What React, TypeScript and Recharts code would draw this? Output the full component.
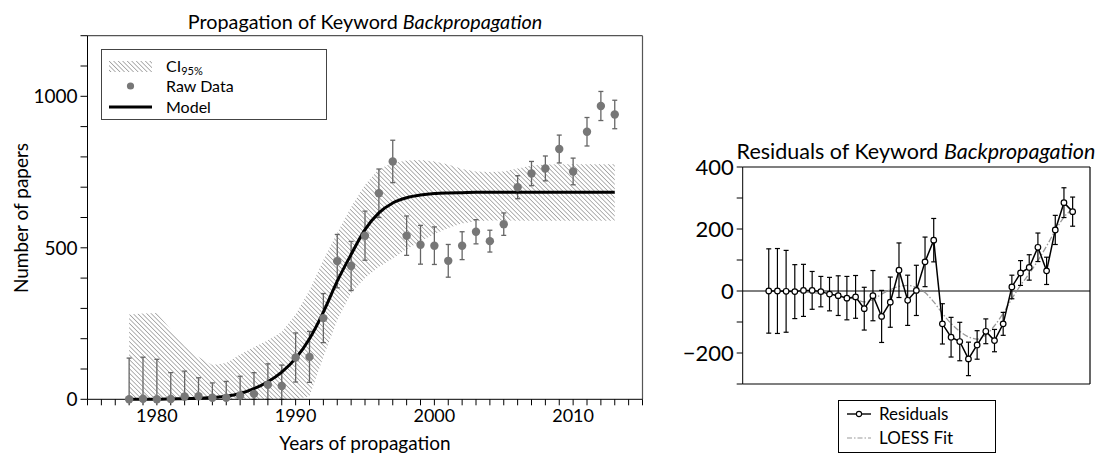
import {
  ComposedChart,
  Area,
  Line,
  Scatter,
  XAxis,
  YAxis,
  ErrorBar,
  ReferenceLine,
  Legend,
} from 'recharts'

const FONT = 'Lato, "DejaVu Sans", sans-serif'

// years of propagation
const years = [
  1978, 1979, 1980, 1981, 1982, 1983, 1984, 1985, 1986, 1987, 1988, 1989,
  1990, 1991, 1992, 1993, 1994, 1995, 1996, 1997, 1998, 1999, 2000, 2001,
  2002, 2003, 2004, 2005, 2006, 2007, 2008, 2009, 2010, 2011, 2012, 2013,
]

// number of papers (raw data, gray dots)
const rawPapers = [
  0, 2, 0, 1, 9, 10, 5, 5, 12, 18, 48, 44,
  138, 140, 268, 456, 440, 540, 680, 785, 540, 510, 507, 457,
  507, 553, 522, 578, 700, 745, 762, 826, 752, 883, 968, 940,
]

// error bar half-length, same for raw data and residuals
const errors = [
  136, 137, 132, 87, 84, 61, 49, 54, 64, 70, 69, 69,
  81, 84, 81, 88, 81, 81, 80, 70, 65, 64, 62, 54,
  46, 40, 36, 37, 38, 40, 41, 46, 44, 47, 48, 47,
]

// fitted model
const model = [
  0, 0, 0, 1, 2, 3, 6, 10, 19, 35, 58, 90,
  135, 200, 288, 390, 478, 560, 615, 648, 665, 674, 679, 681,
  682, 683, 683, 683, 683, 683, 683, 683, 683, 683, 683, 683,
]

// 95% confidence band
const ciLow = [
  0, 0, 0, 0, 0, 0, 0, 0, 0, 0, 0, 0,
  0, 10, 140, 262, 350, 400, 437, 465, 495, 522, 545, 565,
  580, 588, 590, 590, 589, 589, 589, 589, 589, 589, 589, 589,
]
const ciHigh = [
  280, 283, 285, 230, 175, 140, 113, 120, 148, 172, 195, 222,
  280, 360, 460, 550, 635, 708, 760, 780, 788, 790, 785, 775,
  760, 752, 750, 752, 762, 772, 775, 776, 776, 776, 776, 776,
]

// residuals and LOESS fit
const residuals = [
  0, 0, -1, -2, 2, 2, -2, -10, -15, -23, -19, -57,
  -15, -82, -36, 67, -30, 2, 94, 164, -106, -149, -163, -219,
  -174, -130, -160, -106, 13, 58, 76, 141, 65, 197, 285, 256,
]
const loess = [
  0, 0, -1, -2, -3, -5, -8, -11, -15, -20, -27, -35,
  -28, -10, 4, 15, 18, 12, -5, -35, -72, -105, -130, -148,
  -155, -142, -112, -72, -25, 18, 56, 98, 145, 195, 238, 265,
]

const xTicks = Array.from({ length: 41 }, (_, i) => 1975 + i)
const leftYTicks = [0, 100, 200, 300, 400, 500, 600, 700, 800, 900, 1000, 1100, 1200]
const rightYTicks = [-300, -200, -100, 0, 100, 200, 300, 400]

const mainData = years.map((year, i) => ({
  year,
  raw: rawPapers[i],
  rawErr: [Math.min(rawPapers[i], errors[i]), errors[i]],
  model: model[i],
  ci: [ciLow[i], ciHigh[i]],
}))

const residData = years.map((year, i) => ({
  year,
  resid: residuals[i],
  residErr: errors[i],
  loess: loess[i],
}))

function MainLegend() {
  return (
    <div
      style={{
        position: 'relative',
        width: 226,
        height: 71,
        boxSizing: 'border-box',
        border: '1.5px solid #444',
        background: '#fff',
        fontFamily: FONT,
        fontSize: 16,
        color: '#000',
      }}
    >
      <svg width={60} height={71} style={{ position: 'absolute', left: 0, top: 0 }}>
        <defs>
          <pattern id="hatchLegend" width="3.2" height="3.2" patternUnits="userSpaceOnUse" patternTransform="rotate(-45)">
            <line x1="0" y1="0" x2="0" y2="3.2" stroke="#8a8a8a" strokeWidth="1.3" />
          </pattern>
        </defs>
        <rect x={7} y={11} width={43} height={11} fill="url(#hatchLegend)" />
        <circle cx={28.5} cy={36} r={3.6} fill="#777" />
        <line x1={7} y1={57} x2={50} y2={57} stroke="#000" strokeWidth={3} />
      </svg>
      <div style={{ position: 'absolute', left: 64, top: 6, lineHeight: '20px' }}>
        CI<span style={{ fontSize: 11, position: 'relative', top: 3 }}>95%</span>
      </div>
      <div style={{ position: 'absolute', left: 64, top: 26, lineHeight: '20px' }}>Raw Data</div>
      <div style={{ position: 'absolute', left: 64, top: 47, lineHeight: '20px' }}>Model</div>
    </div>
  )
}

function ResidLegend() {
  return (
    <div
      style={{
        position: 'relative',
        width: 158,
        height: 53,
        boxSizing: 'border-box',
        border: '1.5px solid #000',
        background: '#fff',
        fontFamily: FONT,
        fontSize: 17,
        color: '#000',
      }}
    >
      <svg width={40} height={53} style={{ position: 'absolute', left: 0, top: 0 }}>
        <line x1={8} y1={13} x2={32} y2={13} stroke="#000" strokeWidth={1.4} />
        <circle cx={20} cy={13} r={2.6} fill="#fff" stroke="#000" strokeWidth={1.1} />
        <line x1={8} y1={37} x2={32} y2={37} stroke="#999" strokeWidth={1.2} strokeDasharray="5 2 1.5 2" />
      </svg>
      <div style={{ position: 'absolute', left: 40, top: 2, lineHeight: '22px' }}>Residuals</div>
      <div style={{ position: 'absolute', left: 40, top: 26, lineHeight: '22px' }}>LOESS Fit</div>
    </div>
  )
}

const textStyle = { position: 'absolute' as const, fontFamily: FONT, color: '#000', whiteSpace: 'nowrap' as const }

export default function App() {
  return (
    <div style={{ position: 'absolute', left: 0, top: 0, width: 1101, height: 460, background: '#fff', overflow: 'hidden' }}>
      <div style={{ ...textStyle, left: 365, top: 21, fontSize: 19.8, transform: 'translate(-50%, -50%)' }}>
        Propagation of Keyword <i>Backpropagation</i>
      </div>
      <div style={{ ...textStyle, left: 20, top: 218, fontSize: 19, transform: 'translate(-50%, -50%) rotate(-90deg)' }}>
        Number of papers
      </div>
      <div style={{ ...textStyle, left: 365, top: 442, fontSize: 19, transform: 'translate(-50%, -50%)' }}>
        Years of propagation
      </div>
      <div style={{ ...textStyle, left: 916, top: 151, fontSize: 21.5, transform: 'translate(-50%, -50%)' }}>
        Residuals of Keyword <i>Backpropagation</i>
      </div>

      <div style={{ position: 'absolute', left: 0, top: 0 }}>
        <ComposedChart
          width={680}
          height={460}
          data={mainData}
          margin={{ top: 35.7, left: 27.5, right: 37.5, bottom: 20.7 }}
        >
          <defs>
            <pattern id="hatch" width="3.2" height="3.2" patternUnits="userSpaceOnUse" patternTransform="rotate(-45)">
              <line x1="0" y1="0" x2="0" y2="3.2" stroke="#8a8a8a" strokeWidth="1.3" />
            </pattern>
          </defs>
          <XAxis
            type="number"
            dataKey="year"
            domain={[1975, 2015]}
            ticks={xTicks}
            interval={0}
            height={40}
            tickSize={6}
            tickMargin={4}
            stroke="#000"
            tick={{ fill: '#000', fontSize: 18, fontFamily: FONT }}
            tickFormatter={(v: number) => (v % 10 === 0 ? String(v) : '')}
          />
          <YAxis
            type="number"
            domain={[0, 1200]}
            ticks={leftYTicks}
            interval={0}
            width={60}
            tickSize={7}
            tickMargin={3}
            stroke="#000"
            tick={{ fill: '#000', fontSize: 19, fontFamily: FONT }}
            tickFormatter={(v: number) => (v % 500 === 0 ? String(v) : '')}
          />
          <ReferenceLine y={1200} stroke="#555" strokeWidth={1.2} />
          <ReferenceLine x={2015} stroke="#555" strokeWidth={1.2} />
          <Area
            dataKey="ci"
            type="linear"
            stroke="none"
            fill="url(#hatch)"
            fillOpacity={1}
            isAnimationActive={false}
            activeDot={false}
          />
          <Scatter
            dataKey="raw"
            isAnimationActive={false}
            shape={(p: any) => <circle cx={p.cx} cy={p.cy} r={4.2} fill="#777" />}
          >
            <ErrorBar dataKey="rawErr" direction="y" width={2.5} stroke="#666" strokeWidth={1.3} />
          </Scatter>
          <Line
            dataKey="model"
            type="monotone"
            stroke="#000"
            strokeWidth={3}
            dot={false}
            activeDot={false}
            isAnimationActive={false}
          />
          <Legend
            layout="horizontal"
            verticalAlign="middle"
            align="center"
            content={() => <MainLegend />}
            wrapperStyle={{ left: 101, top: 49, width: 226, height: 71 }}
          />
        </ComposedChart>
      </div>

      <div style={{ position: 'absolute', left: 680, top: 0 }}>
        <ComposedChart
          width={421}
          height={460}
          data={residData}
          margin={{ top: 167, left: 2.7, right: 11, bottom: 76 }}
        >
          <XAxis type="number" dataKey="year" domain={[1975, 2015]} hide />
          <YAxis
            type="number"
            domain={[-300, 400]}
            ticks={rightYTicks}
            interval={0}
            width={60}
            tickSize={6}
            tickMargin={3}
            stroke="#000"
            tick={{ fill: '#000', fontSize: 22, fontFamily: FONT }}
            tickFormatter={(v: number) => (v % 200 === 0 ? (v < 0 ? `\u2212${-v}` : String(v)) : '')}
          />
          <ReferenceLine y={400} stroke="#000" strokeWidth={1.2} />
          <ReferenceLine y={-300} stroke="#000" strokeWidth={1.2} />
          <ReferenceLine x={2015} stroke="#000" strokeWidth={1.2} />
          <ReferenceLine y={0} stroke="#000" strokeWidth={1} />
          <Line
            dataKey="loess"
            type="monotone"
            stroke="#999"
            strokeWidth={1.3}
            strokeDasharray="6 2 1.5 2"
            dot={false}
            activeDot={false}
            isAnimationActive={false}
          />
          <Line
            dataKey="resid"
            type="linear"
            stroke="#000"
            strokeWidth={1.5}
            activeDot={false}
            isAnimationActive={false}
            dot={(p: any) => (
              <circle key={p.index} cx={p.cx} cy={p.cy} r={2.8} fill="#fff" stroke="#000" strokeWidth={1.2} />
            )}
          >
            <ErrorBar dataKey="residErr" direction="y" width={2.5} stroke="#000" strokeWidth={1.2} />
          </Line>
          <Legend
            layout="horizontal"
            verticalAlign="middle"
            align="center"
            content={() => <ResidLegend />}
            wrapperStyle={{ left: 158, top: 400, width: 158, height: 53 }}
          />
        </ComposedChart>
      </div>
    </div>
  )
}
